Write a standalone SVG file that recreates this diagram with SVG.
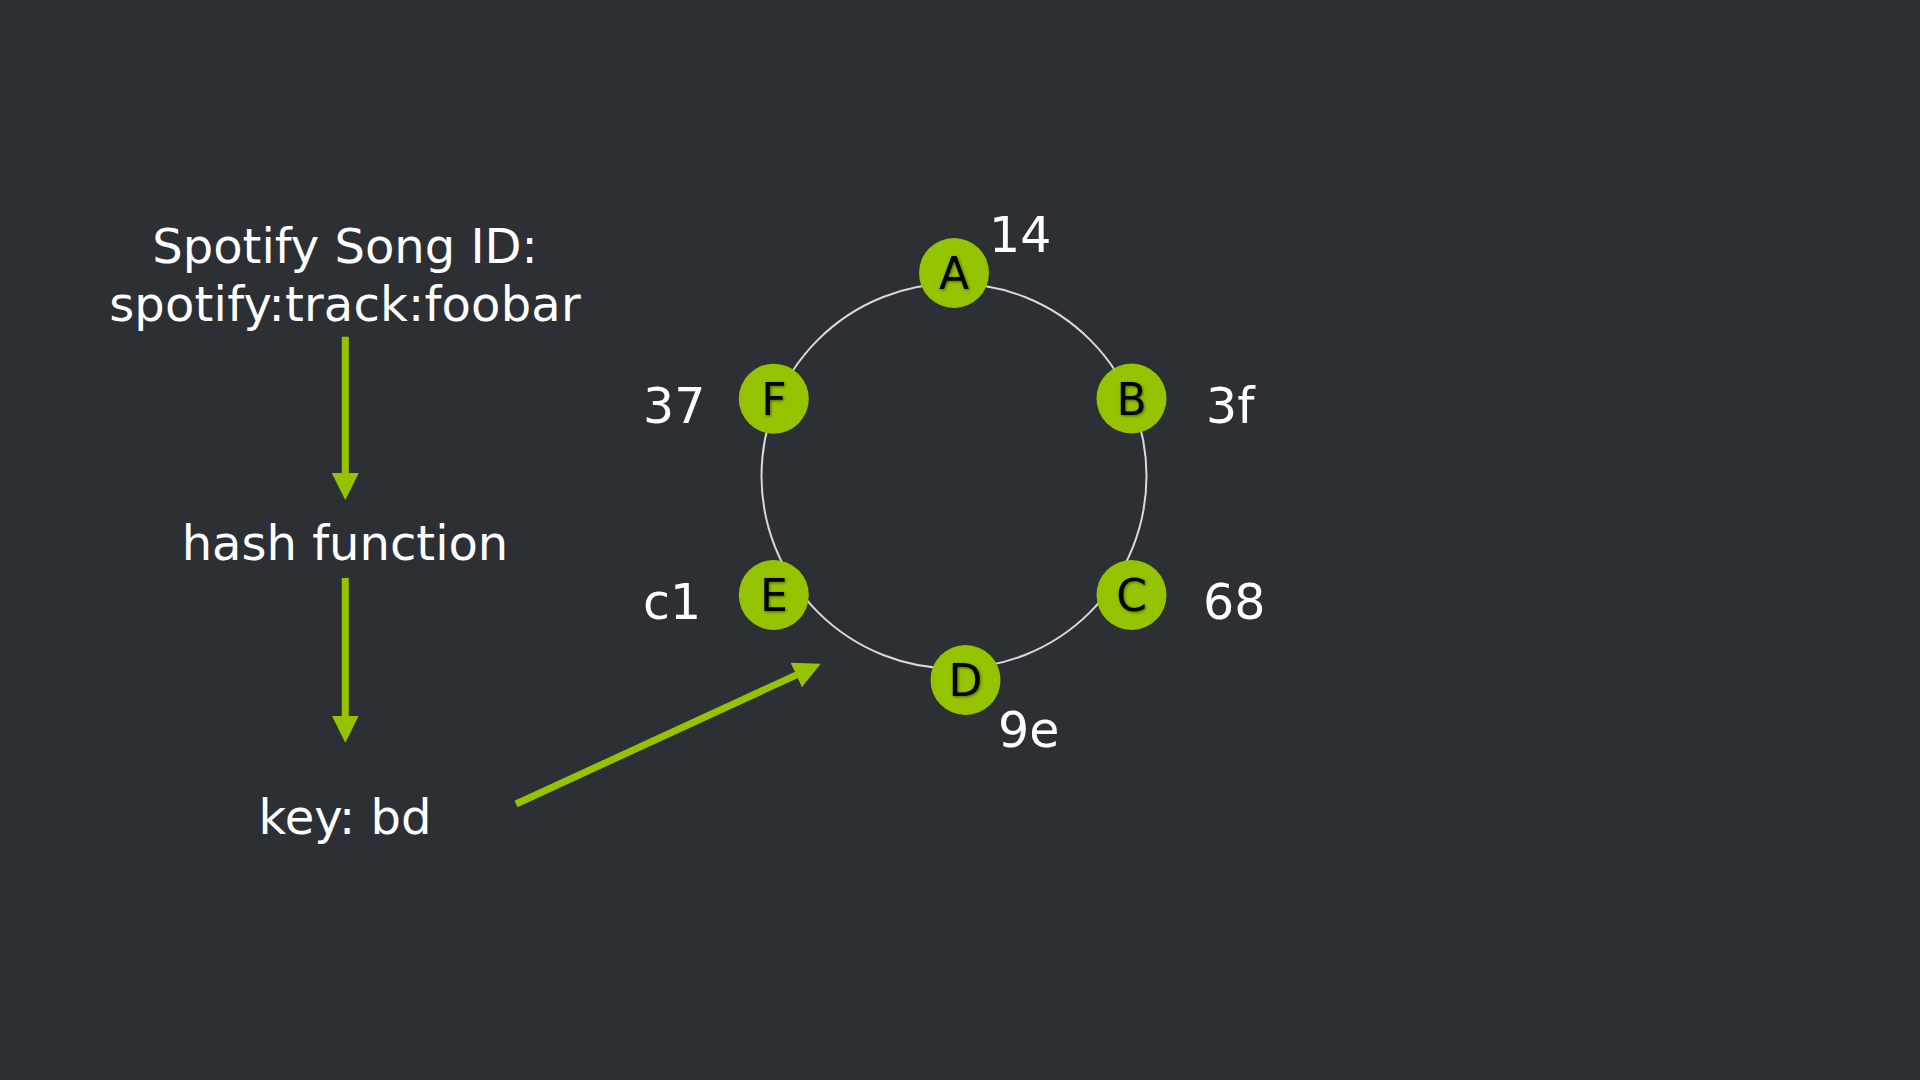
<svg xmlns="http://www.w3.org/2000/svg" width="1920" height="1080" viewBox="0 0 1920 1080">
  <style>
    .lbl { font-family: "DejaVu Sans", "Liberation Sans", sans-serif; fill: #ffffff; }
    .main { font-size: 48px; text-anchor: middle; }
    .num { font-size: 49px; }
    .node circle { fill: #95c300; }
    .node text { font-family: "DejaVu Sans", "Liberation Sans", sans-serif; font-size: 44px; fill: #000000; text-anchor: middle; filter: url(#glow); }
    .conn { stroke: #95c300; stroke-width: 7; fill: none; marker-end: url(#head); }
  </style>
  <defs>
    <marker id="head" viewBox="0 0 27 27" refX="1" refY="13.5" markerWidth="27" markerHeight="27" markerUnits="userSpaceOnUse" orient="auto">
      <path d="M0,0 L27,13.5 L0,27 Z" fill="#95c300"/>
    </marker>
    <filter id="glow" x="-30%" y="-30%" width="160%" height="160%">
      <feGaussianBlur in="SourceAlpha" stdDeviation="1.5" result="b"/>
      <feOffset in="b" dx="0.5" dy="1" result="o"/>
      <feComponentTransfer in="o" result="s"><feFuncA type="linear" slope="0.5"/></feComponentTransfer>
      <feMerge><feMergeNode in="s"/><feMergeNode in="SourceGraphic"/></feMerge>
    </filter>
  </defs>
  <rect width="1920" height="1080" fill="#2c3035"/>

  <g id="ring">
    <circle cx="954" cy="476" r="192.5" fill="none" stroke="#d9d9d9" stroke-width="2"/>
  </g>

  <g id="connectors">
    <line class="conn" x1="345.3" y1="336.7" x2="345.3" y2="474"/>
    <line class="conn" x1="345.3" y1="578" x2="345.3" y2="716.7"/>
    <line class="conn" x1="516" y1="804" x2="797.1" y2="674.6"/>
  </g>

  <g id="song-id">
    <text class="lbl main" x="345" y="262.5">Spotify Song ID:</text>
    <text class="lbl main" x="345" y="321" letter-spacing="0.2">spotify:track:foobar</text>
  </g>
  <g id="hash-function">
    <text class="lbl main" x="345" y="559.5">hash function</text>
  </g>
  <g id="key">
    <text class="lbl main" x="345" y="833.5">key: bd</text>
  </g>

  <g id="node-A" class="node">
    <circle cx="954" cy="273" r="35"/>
    <text x="954" y="289">A</text>
  </g>
  <g id="node-B" class="node">
    <circle cx="1131.5" cy="398.5" r="35"/>
    <text x="1131.5" y="414.5">B</text>
  </g>
  <g id="node-C" class="node">
    <circle cx="1131.5" cy="595" r="35"/>
    <text x="1131.5" y="611">C</text>
  </g>
  <g id="node-D" class="node">
    <circle cx="965.5" cy="680" r="35"/>
    <text x="965.5" y="696">D</text>
  </g>
  <g id="node-E" class="node">
    <circle cx="773.8" cy="595" r="35"/>
    <text x="773.8" y="611">E</text>
  </g>
  <g id="node-F" class="node">
    <circle cx="773.8" cy="398.7" r="35"/>
    <text x="773.8" y="414.7">F</text>
  </g>

  <g id="labels">
    <text class="lbl num" x="989" y="252">14</text>
    <text class="lbl num" x="1206" y="422.5">3f</text>
    <text class="lbl num" x="1203" y="619">68</text>
    <text class="lbl num" x="998" y="746.5">9e</text>
    <text class="lbl num" x="643" y="618.5">c1</text>
    <text class="lbl num" x="643" y="422.5">37</text>
  </g>
</svg>
